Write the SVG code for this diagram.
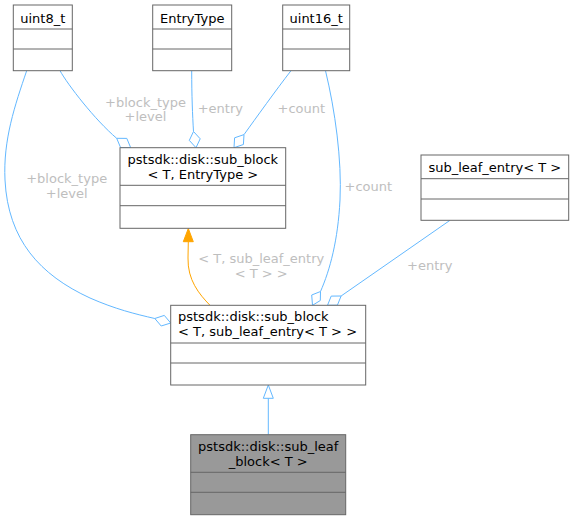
<svg xmlns="http://www.w3.org/2000/svg" width="574" height="520" viewBox="0 0 574 520">
<style>
.box{fill:#ffffff;stroke:#666666;stroke-width:1}
.hl{fill:#999999;stroke:#666666;stroke-width:1}
.sep{stroke:#666666;stroke-width:1;fill:none}
.t{font-family:"DejaVu Sans","Liberation Sans",sans-serif;font-size:13px;fill:#000000}
.m{text-anchor:middle}
.lbl{font-family:"DejaVu Sans","Liberation Sans",sans-serif;font-size:13px;fill:#bebebe;text-anchor:middle}
.e{fill:none;stroke:#63b8ff;stroke-width:1}
.d{fill:#ffffff;stroke:#63b8ff;stroke-width:1}
.o{fill:none;stroke:#ffa500;stroke-width:1}
.oh{fill:#ffa500;stroke:#ffa500;stroke-width:1}
</style>
<rect width="574" height="520" fill="#ffffff"/>
<g id="connectors">
  <!-- uint8_t -> sub_block<T,EntryType> -->
  <path class="e" d="M60,70.7 C68,85 95,120 116.7,138.3"/>
  <polygon class="d" points="130.7,147.7 120.6,147.6 116.7,138.3 126.8,138.4"/>
  <!-- EntryType -> sub_block<T,EntryType> -->
  <path class="e" d="M191.7,70.7 C191.7,95 192.5,115 193.5,131.5"/>
  <polygon class="d" points="196,147.7 189.3,140.4 193.5,131.5 200.2,138.8"/>
  <!-- uint16_t -> sub_block<T,EntryType> -->
  <path class="e" d="M291,70.7 C276,90 256,118 244,134.6"/>
  <polygon class="d" points="234,147.7 234.6,137.8 244,134.6 243.4,144.5"/>
  <!-- uint8_t -> sub_block<T, sub_leaf_entry> -->
  <path class="e" d="M26.7,70.7 C15,105 3,140 5,180 C8,240 40,275 90,298 C115,309 135,314 154.8,318.5"/>
  <polygon class="d" points="170.7,323 161.2,326 154.8,318.5 164.3,315.4"/>
  <!-- uint16_t -> sub_block<T, sub_leaf_entry> -->
  <path class="e" d="M325.5,70.7 C335,110 342,160 340,200 C338,240 330,270 320.5,291.5"/>
  <polygon class="d" points="312.5,305.3 311.7,295 320.5,291.5 320.3,300.5"/>
  <!-- sub_leaf_entry -> sub_block<T, sub_leaf_entry> -->
  <path class="e" d="M450,220.3 L341.1,296"/>
  <polygon class="d" points="327.5,305.3 331.2,296.1 341.1,296 337.4,305.2"/>
  <!-- template instantiation -->
  <path class="o" d="M210,305.3 C199,294 187.5,280 188,258 L188.3,241.7"/>
  <polygon class="oh" points="188.3,228.5 183.3,241.7 193.3,241.7"/>
  <!-- inheritance -->
  <path class="e" d="M268.3,434.7 L268.3,398.3"/>
  <polygon class="d" points="268.3,385 263.3,398.3 273.3,398.3"/>
  <!-- labels -->
  <text class="lbl" x="145.5" y="106.5">+block_type</text>
  <text class="lbl" x="145.5" y="121">+level</text>
  <text class="lbl" x="220.3" y="113">+entry</text>
  <text class="lbl" x="301.3" y="113">+count</text>
  <text class="lbl" x="66.7" y="183">+block_type</text>
  <text class="lbl" x="66.7" y="197.5">+level</text>
  <text class="lbl" x="368.3" y="190.5">+count</text>
  <text class="lbl" x="429.7" y="270">+entry</text>
  <text class="lbl" x="261.2" y="263">&lt; T, sub_leaf_entry</text>
  <text class="lbl" x="261.2" y="277.5">&lt; T &gt; &gt;</text>
</g>
<g id="uint8_t">
  <rect class="box" x="13.3" y="5" width="59" height="65.7"/>
  <path class="sep" d="M13.3,29 H72.3 M13.3,49 H72.3"/>
  <text class="t m" x="42.8" y="22.5">uint8_t</text>
</g>
<g id="EntryType">
  <rect class="box" x="152.7" y="5" width="79" height="65.7"/>
  <path class="sep" d="M152.7,29 H231.7 M152.7,49 H231.7"/>
  <text class="t m" x="192.2" y="22.5">EntryType</text>
</g>
<g id="uint16_t">
  <rect class="box" x="282.7" y="5" width="67" height="65.7"/>
  <path class="sep" d="M282.7,29 H349.7 M282.7,49 H349.7"/>
  <text class="t m" x="316.2" y="22.5">uint16_t</text>
</g>
<g id="sub_block_EntryType">
  <rect class="box" x="120" y="147.7" width="165.7" height="80.6"/>
  <path class="sep" d="M120,185.3 H285.7 M120,205.7 H285.7"/>
  <text class="t m" x="202.85" y="163.8">pstsdk::disk::sub_block</text>
  <text class="t m" x="202.85" y="178.8">&lt; T, EntryType &gt;</text>
</g>
<g id="sub_leaf_entry">
  <rect class="box" x="421" y="155" width="147.7" height="65.3"/>
  <path class="sep" d="M421,178.7 H568.7 M421,199 H568.7"/>
  <text class="t m" x="494.85" y="172">sub_leaf_entry&lt; T &gt;</text>
</g>
<g id="sub_block_sub_leaf_entry">
  <rect class="box" x="170.7" y="305.3" width="195" height="79.7"/>
  <path class="sep" d="M170.7,343 H365.7 M170.7,363 H365.7"/>
  <text class="t" x="178" y="321">pstsdk::disk::sub_block</text>
  <text class="t" x="178" y="336">&lt; T, sub_leaf_entry&lt; T &gt; &gt;</text>
</g>
<g id="sub_leaf_block">
  <rect class="hl" x="190.7" y="434.7" width="155" height="80"/>
  <path class="sep" d="M190.7,472.3 H345.7 M190.7,492.3 H345.7"/>
  <text class="t m" x="268.2" y="450.7">pstsdk::disk::sub_leaf</text>
  <text class="t m" x="268.2" y="465.7">_block&lt; T &gt;</text>
</g>
</svg>
